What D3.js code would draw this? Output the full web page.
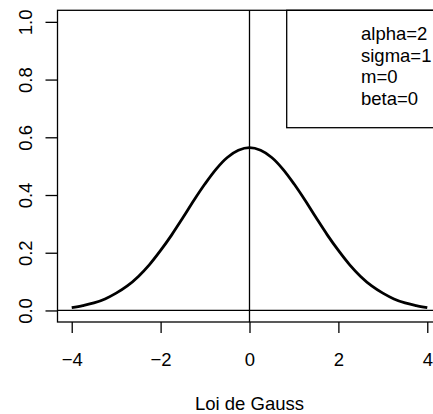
<!DOCTYPE html>
<html>
<head>
<meta charset="utf-8">
<script src="https://cdn.jsdelivr.net/npm/d3@7"></script>
<style>
  body { margin: 0; background: #fff; }
  svg { display: block; font-family: "Liberation Sans", Arial, sans-serif; }
</style>
</head>
<body>
<script>
// values
var xs = [-4, -3.75, -3.5, -3.25, -3, -2.75, -2.5, -2.25, -2, -1.75, -1.5, -1.25, -1, -0.75, -0.5, -0.25,
          0, 0.25, 0.5, 0.75, 1, 1.25, 1.5, 1.75, 2, 2.25, 2.5, 2.75, 3, 3.25, 3.5, 3.75, 4];
var ys = [0.010, 0.017, 0.026, 0.040, 0.060, 0.085, 0.118, 0.159, 0.208, 0.262, 0.321, 0.382, 0.439, 0.490, 0.530, 0.555,
          0.564, 0.555, 0.530, 0.490, 0.439, 0.382, 0.321, 0.262, 0.208, 0.159, 0.118, 0.085, 0.060, 0.040, 0.026, 0.017, 0.010];
var xTicks = [-4, -2, 0, 2, 4];
var yTicks = [0, 0.2, 0.4, 0.6, 0.8, 1.0];
var legendLines = ["alpha=2", "sigma=1", "m=0", "beta=0"];
var xTitle = "Loi de Gauss";

var W = 433, H = 414;
// plot region (right edge falls outside the picture, as in the reference)
var pLeft = 57.5, pRight = 441.5, pTop = 10.3, pBottom = 322;

var svg = d3.select("body").append("svg").attr("width", W).attr("height", H);

var x = d3.scaleLinear().domain([-4.32, 4.32]).range([pLeft, pRight]);
var y = d3.scaleLinear().domain([-0.04, 1.04]).range([pBottom, pTop]);

// reference lines (abline h=0, v=0)
svg.append("line")
  .attr("x1", pLeft).attr("x2", pRight)
  .attr("y1", y(0)).attr("y2", y(0))
  .attr("stroke", "#000").attr("stroke-width", 1.3);
svg.append("line")
  .attr("x1", x(0)).attr("x2", x(0))
  .attr("y1", pTop).attr("y2", pBottom)
  .attr("stroke", "#000").attr("stroke-width", 1.3);

// the density curve
var line = d3.line()
  .x(function(d, i) { return x(xs[i]); })
  .y(function(d) { return y(d); })
  .curve(d3.curveCatmullRom);

svg.append("path")
  .datum(ys)
  .attr("d", line)
  .attr("fill", "none")
  .attr("stroke", "#000")
  .attr("stroke-width", 2.8);

// legend box top-right
var legX = 286.7, legBottom = 127.7;
svg.append("rect")
  .attr("x", legX).attr("y", pTop)
  .attr("width", pRight - legX).attr("height", legBottom - pTop)
  .attr("fill", "none").attr("stroke", "#000").attr("stroke-width", 1.3);

svg.append("g").selectAll("text")
  .data(legendLines)
  .enter().append("text")
  .attr("x", 361)
  .attr("y", function(d, i) { return 40 + i * 21.7; })
  .attr("font-size", 18.5)
  .text(function(d) { return d; });

// plot box
svg.append("rect")
  .attr("x", pLeft).attr("y", pTop)
  .attr("width", pRight - pLeft).attr("height", pBottom - pTop)
  .attr("fill", "none").attr("stroke", "#000").attr("stroke-width", 1.3);

// axes
var gx = svg.append("g")
  .attr("transform", "translate(0," + pBottom + ")")
  .call(d3.axisBottom(x).tickValues(xTicks).tickSize(11).tickFormat(d3.format("d")));
gx.select(".domain").remove();
gx.selectAll("line").attr("stroke-width", 1.3);
gx.selectAll("text")
  .attr("y", 44).attr("dy", null)
  .attr("font-size", 18.5)
  .attr("font-family", "Liberation Sans, Arial, sans-serif")
  .attr("fill", "#000");

var gy = svg.append("g")
  .attr("transform", "translate(" + pLeft + ",0)")
  .call(d3.axisLeft(y).tickValues(yTicks).tickSize(12).tickFormat(d3.format(".1f")));
gy.select(".domain").remove();
gy.selectAll("line").attr("stroke-width", 1.3);
gy.selectAll("text")
  .attr("x", null).attr("dy", null)
  .attr("transform", "translate(-26,0) rotate(-90)")
  .attr("text-anchor", "middle")
  .attr("font-size", 18.5)
  .attr("font-family", "Liberation Sans, Arial, sans-serif")
  .attr("fill", "#000");

// axis title
svg.append("text")
  .attr("x", (pLeft + pRight) / 2)
  .attr("y", 410)
  .attr("text-anchor", "middle")
  .attr("font-size", 18.5)
  .text(xTitle);
</script>
</body>
</html>
